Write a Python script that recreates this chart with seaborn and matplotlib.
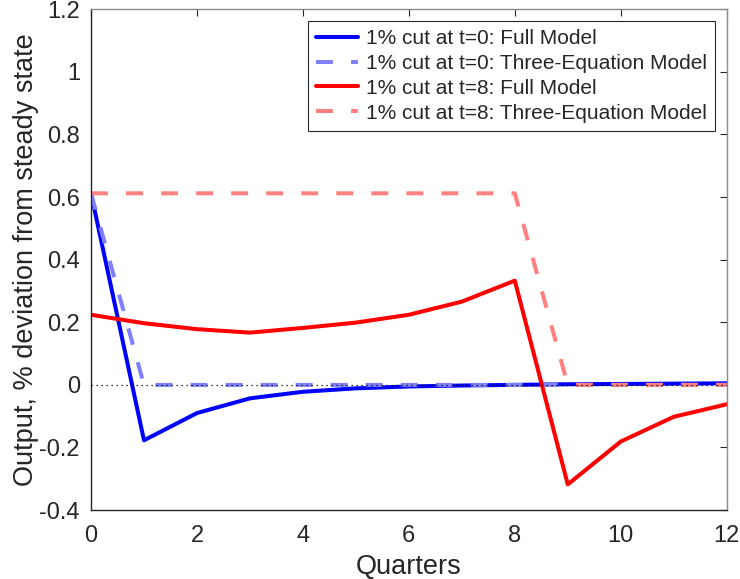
import numpy as np
import pandas as pd
import matplotlib
matplotlib.use("Agg")
import matplotlib.pyplot as plt
import seaborn as sns

quarters = list(range(13))

# output responses, % deviation from steady state
full_t0 = [0.612, -0.177, -0.090, -0.043, -0.022, -0.011, -0.005, -0.002, 0.000, 0.002, 0.003, 0.004, 0.005]
three_eq_t0 = [0.612, 0, 0, 0, 0, 0, 0, 0, 0, 0, 0, 0, 0]
full_t8 = [0.224, 0.197, 0.178, 0.167, 0.182, 0.199, 0.224, 0.266, 0.333, -0.318, -0.181, -0.102, -0.062]
three_eq_t8 = [0.612, 0.612, 0.612, 0.612, 0.612, 0.612, 0.612, 0.612, 0.612, 0, 0, 0, 0]

labels = ["1% cut at t=0: Full Model",
          "1% cut at t=0: Three-Equation Model",
          "1% cut at t=8: Full Model",
          "1% cut at t=8: Three-Equation Model"]

sns.set_style("white")
plt.rcParams['font.family'] = ['Liberation Sans', 'DejaVu Sans']
plt.rcParams['axes.unicode_minus'] = False

fig = plt.figure(figsize=(7.4, 5.79), dpi=100)
ax = fig.add_axes([0.123, 0.119, 0.859, 0.865])

dash = (4.2, 4.5)
sns.lineplot(x=quarters, y=full_t0, color=(0, 0, 1), lw=2.9, label=labels[0], ax=ax)
sns.lineplot(x=quarters, y=three_eq_t0, color=(0.5, 0.5, 1), lw=2.9, label=labels[1], ax=ax)
sns.lineplot(x=quarters, y=full_t8, color=(1, 0, 0), lw=2.9, label=labels[2], ax=ax)
sns.lineplot(x=quarters, y=three_eq_t8, color=(1, 0.5, 0.5), lw=2.9, label=labels[3], ax=ax)
lines = ax.get_lines()
for ln in (lines[1], lines[3]):
    ln.set_dashes(dash)
    ln.set_dash_capstyle('butt')

ax.axhline(0, color='k', lw=0.9, ls=(0, (1, 3)), zorder=5)

ax.set_xlim(0, 12)
ax.set_ylim(-0.4, 1.2)
ax.set_xticks(range(0, 13, 2))
yt = np.round(np.arange(-0.4, 1.21, 0.2), 1)
ax.set_yticks(yt)
ax.set_yticklabels([f"{v:g}" for v in yt])
ax.tick_params(direction='in', length=5, width=0.8, labelsize=17, color='#262626',
               top=True, right=True, labelcolor='#262626')
ax.tick_params(axis='x', pad=11)
ax.tick_params(axis='y', pad=8)
for side in ['left', 'bottom']:
    ax.spines[side].set_color('#262626')
for side in ['top', 'right']:
    ax.spines[side].set_color('#8c8c8c')
for s in ax.spines.values():
    s.set_linewidth(1.0)

ax.set_xlabel("Quarters", fontsize=19.5, color='#262626', labelpad=5)
ax.set_ylabel("Output, % deviation from steady state", fontsize=19.5, color='#262626', labelpad=0)

leg = ax.legend(loc='upper right', fontsize=15, frameon=True, fancybox=False,
                edgecolor='#262626', framealpha=1, handlelength=2.0,
                handletextpad=0.4, labelspacing=0.28, borderaxespad=0.55, borderpad=0.4)
leg.get_frame().set_linewidth(0.8)
for h in leg.get_lines():
    h.set_linewidth(2.9)

fig.savefig("out.png", dpi=100)
